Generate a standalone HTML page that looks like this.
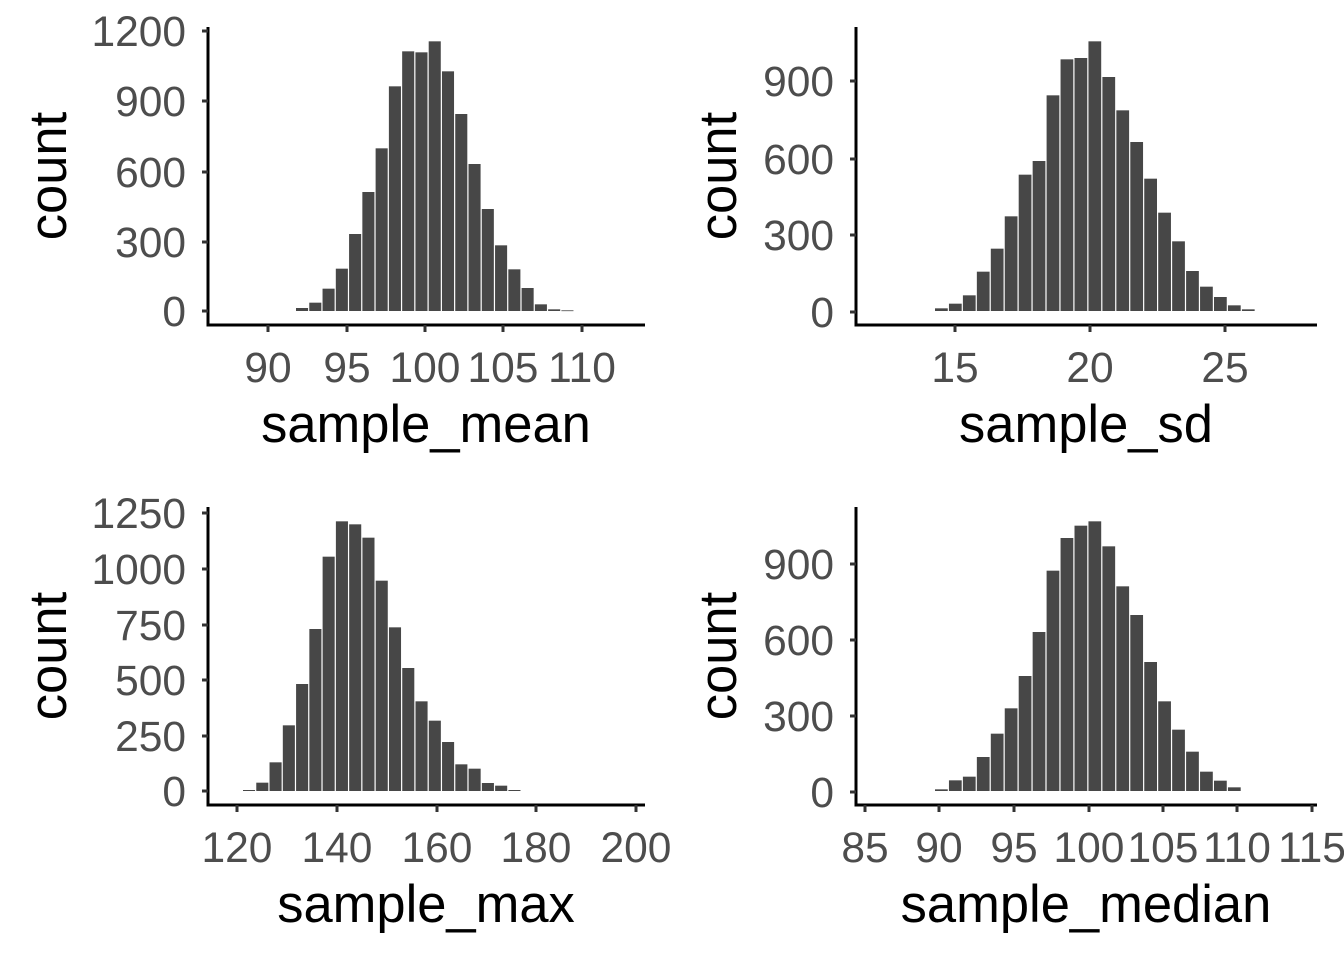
<!DOCTYPE html>
<html><head><meta charset="utf-8"><style>body{margin:0;background:#fff}svg{display:block}</style></head>
<body>
<svg id="s" width="1344" height="960" xmlns="http://www.w3.org/2000/svg" font-family="Liberation Sans, sans-serif"></svg>
<script>
const s=document.getElementById('s');let h='';
function panel(o){
  o.tops.forEach((t,i)=>{const x=o.bx+i*o.p;const y=o.oy+t/3;const b=o.oy+873/3;
    h+=`<rect x="${x.toFixed(2)}" y="${y.toFixed(2)}" width="${(o.p-1.2).toFixed(2)}" height="${Math.max(b-y,0.8).toFixed(2)}" fill="#474747"/>`;});
  h+=`<line x1="${o.ax}" y1="${o.top}" x2="${o.ax}" y2="${o.axy}" stroke="#000" stroke-width="3"/>`;
  h+=`<line x1="${o.ax-1.5}" y1="${o.axy}" x2="${o.xend}" y2="${o.axy}" stroke="#000" stroke-width="3"/>`;
  o.yt.forEach(([v,y])=>{h+=`<line x1="${o.ax-6}" y1="${y}" x2="${o.ax}" y2="${y}" stroke="#333" stroke-width="3"/><text x="${o.ax-22}" y="${y+15}" text-anchor="end" font-size="42.5" fill="#4d4d4d">${v}</text>`;});
  o.xt.forEach(([v,x])=>{h+=`<line x1="${x}" y1="${o.axy}" x2="${x}" y2="${o.axy+7}" stroke="#333" stroke-width="3"/><text x="${x}" y="${o.axy+57}" text-anchor="middle" font-size="42.5" fill="#4d4d4d">${v}</text>`;});
  h+=`<text x="${o.tx}" y="${o.axy+117}" text-anchor="middle" font-size="52.5" fill="#000">${o.title}</text>`;
  h+=`<text transform="translate(${o.cx},${(o.top+o.axy)/2}) rotate(-90)" text-anchor="middle" font-size="52.5" fill="#000">count</text>`;
}
panel({bx:296,p:13.27,oy:20,tops:[864,848,806,746,642,516,385,199,94,97,64,154,282,432,567,676,748,804,853,868,871],
 ax:208,top:27,axy:325,xend:645,cx:66,yt:[[0,311],[300,242],[600,172],[900,101],[1200,31]],
 xt:[[90,268],[95,347],[100,425],[105,503],[110,582]],title:'sample_mean',tx:426});
panel({bx:935,p:13.95,oy:20,tops:[865,851,826,755,686,589,464,423,226,118,114,64,171,271,366,476,578,664,753,800,831,856,868],
 ax:856,top:27,axy:325,xend:1317,cx:736,yt:[[0,312],[300,235],[600,159],[900,81]],
 xt:[[15,955],[20,1090],[25,1225]],title:'sample_sd',tx:1086});
panel({bx:243,p:13.27,oy:500,tops:[870,848,787,676,552,387,170,64,73,113,242,382,504,604,662,726,793,806,849,857,870],
 ax:208,top:507,axy:805,xend:645,cx:66,yt:[[0,791],[250,736],[500,680],[750,625],[1000,569],[1250,513]],
 xt:[[120,237],[140,337],[160,437],[180,536],[200,636]],title:'sample_max',tx:426});
panel({bx:935,p:13.95,oy:500,tops:[868,841,830,771,701,625,528,396,212,114,77,64,139,259,345,486,604,689,755,815,842,862],
 ax:856,top:507,axy:805,xend:1317,cx:736,yt:[[0,792],[300,716],[600,640],[900,564]],
 xt:[[85,865],[90,939],[95,1014],[100,1089],[105,1163],[110,1237],[115,1312]],title:'sample_median',tx:1086});
s.innerHTML=h;
</script>
</body></html>
